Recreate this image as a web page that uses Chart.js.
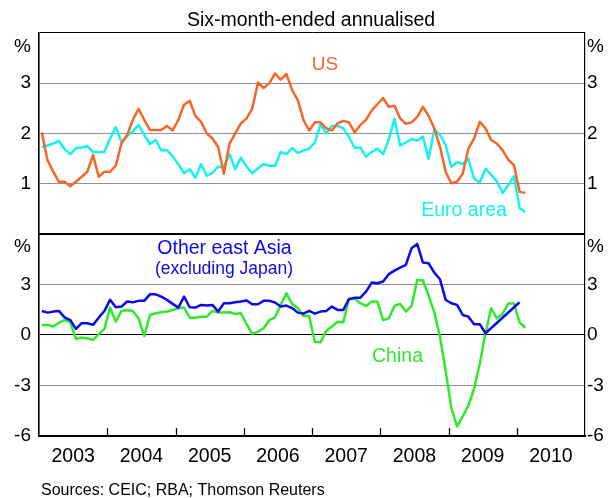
<!DOCTYPE html>
<html><head><meta charset="utf-8">
<script src="https://cdn.jsdelivr.net/npm/chart.js@4.4.1/dist/chart.umd.min.js"></script>
<style>
html,body{margin:0;padding:0;background:#fff;}
#c{display:block;}
</style></head><body>
<canvas id="c" width="609" height="498"></canvas>
<script>
// ---------- DATA ----------
const years = ['2003','2004','2005','2006','2007','2008','2009','2010'];
const monthNames = ['Jan','Feb','Mar','Apr','May','Jun','Jul','Aug','Sep','Oct','Nov','Dec'];
const months = [];
years.forEach(y => monthNames.forEach(m => months.push(m + ' ' + y)));

const topTickLabels = [1, 2, 3];
const bottomTickLabels = [-6, -3, 0, 3];

// Jan 2003 - Feb 2010
const us = [
 2.02,1.47,1.24,1.04,1.04,0.95,1.04,1.14,1.24,1.57,1.14,1.24,
 1.24,1.36,1.80,1.97,2.27,2.49,2.27,2.07,2.07,2.07,2.15,2.06,
 2.27,2.57,2.65,2.35,2.23,2.00,1.90,1.73,1.20,1.80,2.00,2.20,
 2.30,2.50,3.01,2.90,3.00,3.19,3.07,3.18,2.86,2.66,2.27,2.06,
 2.22,2.22,2.10,2.06,2.20,2.25,2.22,2.02,2.17,2.27,2.46,2.58,
 2.70,2.53,2.55,2.30,2.19,2.22,2.33,2.53,2.35,2.10,1.74,1.24,
 1.01,1.04,1.20,1.70,1.90,2.23,2.10,1.87,1.80,1.67,1.48,1.37,
 0.84,0.82];
const euro = [
 1.73,1.76,1.80,1.85,1.69,1.59,1.71,1.72,1.75,1.63,1.63,1.63,
 1.90,2.12,1.83,1.95,2.04,2.17,1.97,1.79,1.87,1.66,1.67,1.55,
 1.39,1.21,1.29,1.12,1.39,1.16,1.22,1.34,1.33,1.59,1.29,1.52,
 1.34,1.21,1.31,1.39,1.36,1.36,1.63,1.59,1.71,1.61,1.66,1.70,
 1.82,2.18,2.00,2.15,2.15,2.10,1.93,1.71,1.72,1.54,1.63,1.70,
 1.59,1.88,2.29,1.76,1.82,1.89,1.86,1.94,1.50,2.08,1.97,1.77,
 1.34,1.43,1.39,1.50,1.10,1.03,1.30,1.18,1.05,0.82,0.97,1.15,
 0.52,0.44];
const eastAsia = [
 1.43,1.33,1.39,1.43,1.05,0.89,0.36,0.70,0.70,0.60,1.03,1.43,
 2.09,1.65,1.69,1.99,1.95,2.03,2.03,2.42,2.42,2.28,2.09,1.85,
 1.63,2.28,1.65,1.63,1.79,1.75,1.79,1.39,1.89,1.89,1.95,1.99,
 2.05,1.83,1.83,2.03,2.03,1.93,1.69,1.75,1.60,1.33,1.27,1.44,
 1.27,1.39,1.43,1.69,1.49,1.49,2.13,2.22,2.22,2.58,3.12,3.08,
 3.18,3.62,3.83,4.01,4.17,5.16,5.42,4.31,4.27,3.71,3.32,2.09,
 1.89,1.79,1.19,1.09,0.64,0.64,0.10,null,null,null,null,null,
 1.95];
const china = [
 0.60,0.60,0.50,0.73,0.89,0.75,-0.24,-0.16,-0.20,-0.30,0.04,0.36,
 1.63,0.79,1.43,1.49,1.43,0.99,-0.06,1.19,1.29,1.35,1.39,1.49,
 1.59,1.63,1.03,1.03,1.09,1.09,1.43,1.33,1.33,1.35,1.25,1.29,
 0.64,0.06,0.20,0.40,0.89,1.05,1.79,2.48,1.85,1.60,1.13,1.13,
 -0.40,-0.44,0.24,0.50,0.79,0.75,2.15,2.15,1.89,1.73,1.99,1.99,
 0.89,0.99,1.73,1.85,1.39,1.73,3.28,3.24,2.35,1.35,-0.10,-2.15,
 -4.35,-5.45,-4.85,-4.20,-3.20,-1.70,0.10,1.59,0.99,1.25,1.87,1.87,
 0.75,0.43];

// ---------- STYLE ----------
const FONT = '"Liberation Sans", Arial, Helvetica, sans-serif';
const C_US = '#f3672b', C_EU = '#14f2f2', C_AS = '#0a0aea', C_CN = '#30ea2a';
const GRID = '#8f8f8f';

// points placed mid-month on a month axis
const toPts = arr => arr.map((v, i) => ({x: i + 0.5, y: v}));

const textItems = [
  {text:'Six-month-ended annualised', x:311, y:26, size:19.5, color:'#000', align:'center'},
  {text:'US', x:325, y:70, size:19, color:C_US, align:'center'},
  {text:'Euro area', x:464, y:216, size:19.5, color:C_EU, align:'center'},
  {text:'Other east Asia', x:224.5, y:253.5, size:19.5, color:C_AS, align:'center'},
  {text:'(excluding Japan)', x:224, y:273.5, size:17.5, color:C_AS, align:'center'},
  {text:'China', x:397.5, y:361.7, size:19.5, color:C_CN, align:'center'},
  {text:'%', x:31, y:51.5, size:19, color:'#000', align:'right'},
  {text:'%', x:587, y:51.5, size:19, color:'#000', align:'left'},
  {text:'%', x:31, y:252, size:19, color:'#000', align:'right'},
  {text:'%', x:587, y:252, size:19, color:'#000', align:'left'},
  {text:'Sources: CEIC; RBA; Thomson Reuters', x:41, y:495, size:16, color:'#000', align:'left'}
];

const overlay = {
  id: 'overlay',
  afterDraw(chart) {
    const ctx = chart.ctx, xs = chart.scales.x, a = chart.chartArea;
    ctx.save();
    // year tick marks, pointing up from the bottom axis
    ctx.strokeStyle = '#000'; ctx.lineWidth = 1.3;
    for (let i = 1; i < years.length; i++) {
      const px = Math.round(xs.getPixelForValue(i * 12)) + 0.5;
      ctx.beginPath(); ctx.moveTo(px, a.bottom); ctx.lineTo(px, a.bottom - 7.5); ctx.stroke();
    }
    ctx.textBaseline = 'alphabetic';
    for (const t of textItems) {
      ctx.font = t.size + 'px ' + FONT;
      ctx.fillStyle = t.color; ctx.textAlign = t.align;
      ctx.fillText(t.text, t.x, t.y);
    }
    ctx.restore();
  }
};

const tickFont = {family: FONT, size: 19};
function yAxis(pos, stack, min, max, step, labels, isTop, grid) {
  return {
    type: 'linear', position: pos, stack: stack, stackWeight: 1,
    min: min, max: max,
    afterFit: s => { s.width = pos === 'left' ? 39 : 24; },
    ticks: {
      stepSize: step, font: tickFont, color: '#000',
      padding: pos === 'left' ? 8 : 2,
      callback: v => labels.includes(v) ? String(v) : ''
    },
    border: {display: true, color: '#000', width: pos === 'left' ? 1.6 : 1.2},
    grid: {
      display: grid, drawTicks: false,
      color: c => {
        const v = c.tick.value;
        if (v === min || v === max || v === 0) return '#000';
        return GRID;
      },
      lineWidth: c => {
        const v = c.tick.value;
        if ((isTop && v === min) || (!isTop && v === max)) return 2;
        return 1;
      }
    }
  };
}

new Chart(document.getElementById('c'), {
  type: 'line',
  data: {
    datasets: [
      {label:'US', data: toPts(us), yAxisID:'yT', borderColor:C_US},
      {label:'Euro area', data: toPts(euro), yAxisID:'yT', borderColor:C_EU},
      {label:'Other east Asia (excluding Japan)', data: toPts(eastAsia), yAxisID:'yB', borderColor:C_AS, spanGaps:true},
      {label:'China', data: toPts(china), yAxisID:'yB', borderColor:C_CN}
    ]
  },
  options: {
    responsive: false, animation: false, devicePixelRatio: 1,
    elements: {
      point: {radius: 0},
      line: {borderWidth: 2.5, tension: 0, fill: false, borderCapStyle: 'butt', borderJoinStyle: 'round'}
    },
    layout: {padding: {top: 0, bottom: 22.3, left: 0, right: 0}},
    plugins: {
      legend: {display: false},
      tooltip: {enabled: false},
      title: {display: true, text: '', font: {family: FONT, size: 19.5, weight: 'normal'}, padding: {top: 7.3, bottom: 2}}
    },
    scales: {
      x: {
        type: 'linear', min: 0, max: years.length * 12,
        afterBuildTicks: s => { s.ticks = years.map((y, i) => ({value: i * 12 + 6})); },
        afterFit: s => { s.height = 40; },
        ticks: {font: {family: FONT, size: 19.5}, color: '#000', padding: 9.6, autoSkip: false, maxRotation: 0,
                callback: (v, i) => years[i]},
        grid: {display: false, drawTicks: false},
        border: {display: true, color: '#000', width: 2}
      },
      yB: yAxis('left', 'L', -6, 6, 3, bottomTickLabels, false, true),
      yT: yAxis('left', 'L', 0, 4, 1, topTickLabels, true, true),
      yTR: yAxis('right', 'R', 0, 4, 1, topTickLabels, true, false),
      yBR: yAxis('right', 'R', -6, 6, 3, bottomTickLabels, false, false)
    }
  },
  plugins: [overlay]
});
</script>
</body></html>
